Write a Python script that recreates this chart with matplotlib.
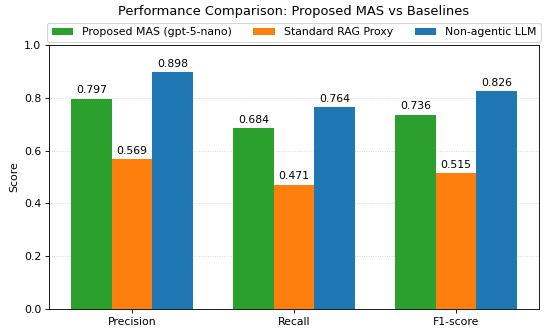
import matplotlib
matplotlib.use("Agg")
import matplotlib.pyplot as plt
import numpy as np

metrics = ["Precision", "Recall", "F1-score"]
series_names = ["Proposed MAS (gpt-5-nano)", "Standard RAG Proxy", "Non-agentic LLM"]
mas_scores = [0.797, 0.684, 0.736]
rag_scores = [0.569, 0.471, 0.515]
llm_scores = [0.898, 0.764, 0.826]
colors = ["#2ca02c", "#ff7f0e", "#1f77b4"]

DPI = 78
fig = plt.figure(figsize=(550 / DPI, 330 / DPI), dpi=DPI)
ax = fig.add_axes([49 / 550, 1 - 309 / 330, 490 / 550, 264 / 330])

x = np.arange(len(metrics))
width = 0.25
for i, (name, vals) in enumerate(zip(series_names, [mas_scores, rag_scores, llm_scores])):
    bars = ax.bar(x + (i - 1) * width, vals, width, label=name, color=colors[i])
    for b, v in zip(bars, vals):
        ax.annotate(f"{v:.3f}", (b.get_x() + b.get_width() / 2, v),
                    xytext=(0, 3), textcoords="offset points",
                    ha="center", va="bottom", fontsize=10)

ax.set_xticks(x)
ax.set_xticklabels(metrics)
ax.set_ylim(0, 1.0)
ax.set_ylabel("Score")
ax.grid(True, axis="y", linestyle=":", alpha=0.6)
ax.set_axisbelow(True)
ax.legend(loc="lower center", bbox_to_anchor=(0.5, 1.0), ncol=3,
          borderaxespad=0.3)
fig.text(294 / 550, 1 - 11 / 330, "Performance Comparison: Proposed MAS vs Baselines",
         ha="center", va="center", fontsize=12)

fig.savefig("out.png", dpi=DPI)
